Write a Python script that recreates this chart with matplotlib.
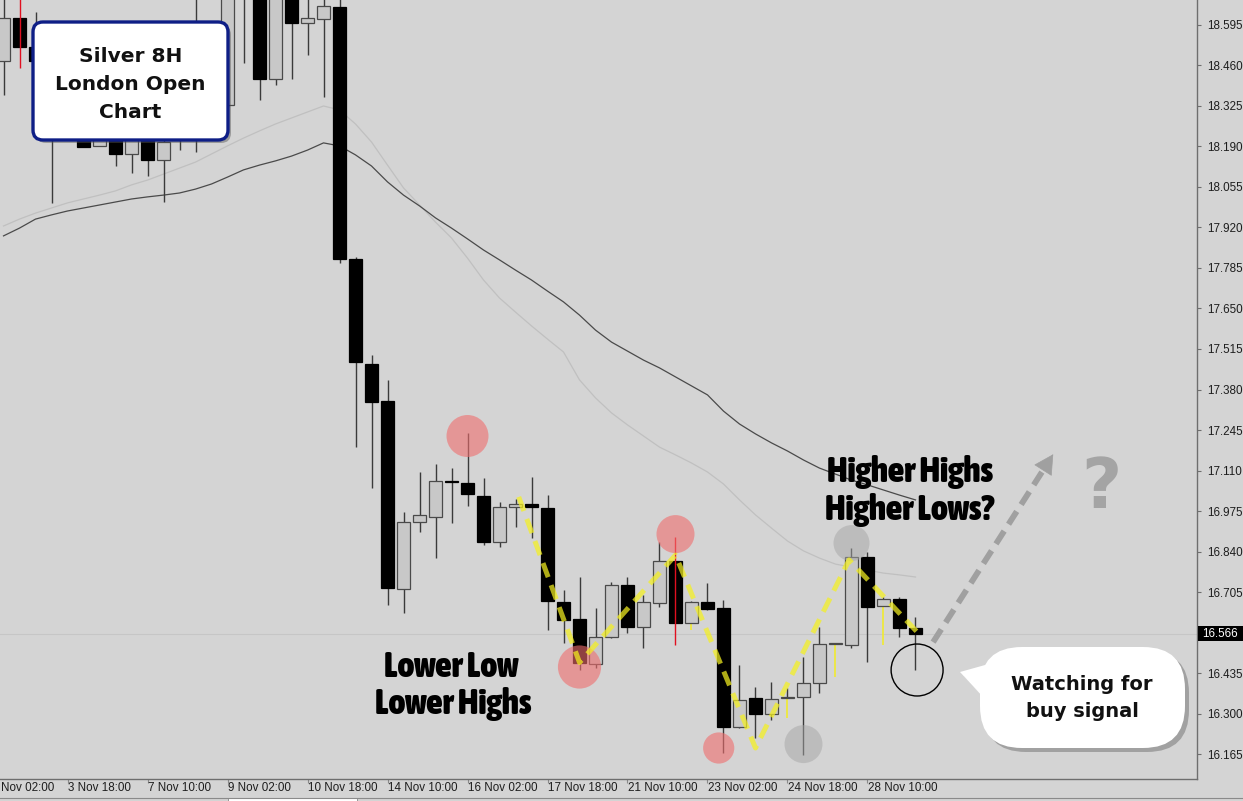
import matplotlib
matplotlib.use("Agg")
import matplotlib.pyplot as plt
import matplotlib.transforms as mtransforms
from matplotlib import font_manager as fm
from matplotlib.patches import FancyBboxPatch, Polygon, Rectangle

W, H = 1243, 801

# ---------- candle data (8H bars) ----------
opens = [18.475, 18.618, 18.522, 18.475, 18.250, 18.235, 18.192, 18.225, 18.165, 18.210,
         18.145, 18.220, 18.300, 18.550, 18.328, 18.800, 18.760, 18.415, 18.700, 18.602,
         18.615, 18.655, 17.815, 17.465, 17.342, 16.715, 16.938, 16.955, 17.075, 17.068,
         17.025, 16.872, 16.988, 16.998, 16.985, 16.672, 16.615, 16.465, 16.555, 16.728,
         16.588, 16.668, 16.808, 16.602, 16.672, 16.652, 16.255, 16.352, 16.298, 16.352,
         16.355, 16.402, 16.532, 16.528, 16.822, 16.658, 16.682, 16.585]
highs = [18.690, 18.700, 18.638, 18.500, 18.300, 18.260, 18.240, 18.240, 18.230, 18.230,
         18.220, 18.320, 18.700, 18.600, 18.800, 18.850, 18.800, 18.750, 18.720, 18.690,
         18.690, 18.690, 17.820, 17.495, 17.412, 16.972, 17.105, 17.132, 17.118, 17.235,
         17.085, 17.005, 17.015, 17.088, 17.028, 16.712, 16.755, 16.652, 16.738, 16.755,
         16.695, 16.872, 16.888, 16.675, 16.735, 16.678, 16.462, 16.388, 16.405, 16.385,
         16.488, 16.588, 16.536, 16.852, 16.838, 16.690, 16.690, 16.622]
lows = [18.362, 18.452, 18.440, 18.002, 18.220, 18.188, 18.190, 18.125, 18.102, 18.092,
        18.005, 18.178, 18.172, 18.300, 18.320, 18.468, 18.345, 18.395, 18.415, 18.495,
        18.355, 17.802, 17.188, 17.052, 16.662, 16.635, 16.905, 16.818, 16.935, 16.992,
        16.862, 16.855, 16.922, 16.885, 16.578, 16.535, 16.445, 16.452, 16.552, 16.568,
        16.518, 16.655, 16.528, 16.578, 16.645, 16.168, 16.252, 16.218, 16.278, 16.285,
        16.162, 16.368, 16.422, 16.520, 16.472, 16.528, 16.555, 16.445]
closes = [18.618, 18.522, 18.475, 18.250, 18.235, 18.188, 18.225, 18.165, 18.210, 18.145,
          18.205, 18.300, 18.580, 18.350, 18.760, 18.720, 18.415, 18.700, 18.602, 18.618,
          18.658, 17.815, 17.472, 17.338, 16.718, 16.938, 16.962, 17.075, 17.072, 17.032,
          16.872, 16.988, 16.998, 16.988, 16.675, 16.612, 16.468, 16.555, 16.728, 16.588,
          16.672, 16.808, 16.602, 16.672, 16.648, 16.255, 16.345, 16.298, 16.348, 16.354,
          16.402, 16.532, 16.534, 16.822, 16.655, 16.682, 16.585, 16.566]

red_wick_bars = [1, 42]
yellow_low_wick_bars = [43, 49, 52, 55]

# moving averages (dark = slow, light = fast)
ma_dark = [17.892, 17.918, 17.948, 17.962, 17.975, 17.985, 17.995, 18.005, 18.015, 18.022,
           18.028, 18.035, 18.048, 18.065, 18.088, 18.112, 18.128, 18.142, 18.158, 18.178,
           18.202, 18.192, 18.162, 18.125, 18.072, 18.028, 17.992, 17.952, 17.918, 17.882,
           17.845, 17.812, 17.778, 17.745, 17.708, 17.672, 17.628, 17.578, 17.538, 17.508,
           17.478, 17.452, 17.422, 17.392, 17.362, 17.308, 17.265, 17.232, 17.202, 17.175,
           17.145, 17.118, 17.098, 17.078, 17.062, 17.045, 17.028, 17.012]
ma_light = [17.925, 17.948, 17.968, 17.985, 18.002, 18.015, 18.028, 18.042, 18.062, 18.078,
            18.098, 18.118, 18.138, 18.165, 18.192, 18.218, 18.242, 18.265, 18.285, 18.305,
            18.325, 18.312, 18.265, 18.205, 18.128, 18.052, 17.995, 17.938, 17.885, 17.818,
            17.745, 17.685, 17.638, 17.592, 17.548, 17.505, 17.412, 17.352, 17.302, 17.262,
            17.225, 17.188, 17.162, 17.135, 17.105, 17.065, 17.012, 16.962, 16.918, 16.875,
            16.842, 16.818, 16.798, 16.788, 16.778, 16.768, 16.762, 16.755]

current_price = 16.566

y_ticks = [16.165, 16.300, 16.435, 16.705, 16.840, 16.975, 17.110, 17.245, 17.380,
           17.515, 17.650, 17.785, 17.920, 18.055, 18.190, 18.325, 18.460, 18.595]
x_label_bars = [4, 9, 14, 19, 24, 29, 34, 39, 44, 49, 54]
x_labels = ["3 Nov 18:00", "7 Nov 10:00", "9 Nov 02:00", "10 Nov 18:00",
            "14 Nov 10:00", "16 Nov 02:00", "17 Nov 18:00", "21 Nov 10:00", "23 Nov 02:00",
            "24 Nov 18:00", "28 Nov 10:00"]
first_label = "Nov 02:00"  # left-most label, clipped by the chart window

# swing annotations (bar, price)
pink_marks = [(29, 17.225), (42, 16.898), (36, 16.455), (44.7, 16.185)]
pink_sizes = [914, 750, 967, 505]
gray_marks = [(50, 16.198), (53, 16.868)]
gray_sizes = [748, 672]
zigzag_bars = [32.2, 36.0, 42.0, 47.0, 52.85, 57.1]
zigzag_prices = [17.022, 16.470, 16.828, 16.185, 16.812, 16.572]


def pick_narrow_bold():
    # look for a condensed / narrow bold face (Impact-like look)
    best, best_w = None, 0
    for f in fm.fontManager.ttflist:
        nm = f.name.lower()
        st = str(f.stretch).lower()
        narrow = ("narrow" in nm or "condensed" in nm or st in
                  ("condensed", "semi-condensed", "extra-condensed", "625", "700", "750"))
        w = f.weight if isinstance(f.weight, int) else fm.weight_dict.get(str(f.weight), 400)
        if narrow and w >= 700 and w > best_w:
            best, best_w = f.fname, w
    return best


narrow_file = pick_narrow_bold()
if narrow_file:
    big_font = fm.FontProperties(fname=narrow_file, size=25.5)
else:
    big_font = fm.FontProperties(family="Liberation Sans", weight="bold", size=19.5)

# ---------- figure ----------
BG = "#d4d4d4"
fig = plt.figure(figsize=(W / 100, H / 100), dpi=100, facecolor=BG)
ax = fig.add_axes([0, 22 / H, 1197 / W, 779 / H], facecolor=BG)
ax.set_xlim(-0.219, 74.594)
ax.set_ylim(16.0817, 18.6783)

for s in ["top", "left"]:
    ax.spines[s].set_visible(False)
for s in ["right", "bottom"]:
    ax.spines[s].set_color("#6e6e6e")
    ax.spines[s].set_linewidth(1.0)

# current price line
ax.axhline(current_price, color="#c6c6c6", lw=0.8, zorder=1)

# moving averages
bars = list(range(len(opens)))
ax.plot(bars, ma_light, color="#c0c0c0", lw=0.9, zorder=2)
ax.plot(bars, ma_dark, color="#4a4a4a", lw=0.9, zorder=2)

# candles
bw = 0.76
for i in bars:
    o, h, l, c = opens[i], highs[i], lows[i], closes[i]
    lo_b, hi_b = min(o, c), max(o, c)
    if i in red_wick_bars:
        ax.vlines(i, l, h, color="#e01020", lw=1.0, zorder=5)
    elif i in yellow_low_wick_bars:
        ax.vlines(i, hi_b, h, color="#3a3a3a", lw=1.0, zorder=3)
        ax.vlines(i, l, lo_b, color="#f0ea30", lw=1.2, zorder=3)
    else:
        ax.vlines(i, l, h, color="#3a3a3a", lw=1.0, zorder=3)
    if c < o:
        face, edge = "black", "black"
    else:
        face, edge = "#c8c8c8", "#4a4a4a"
    ax.add_patch(Rectangle((i - bw / 2, lo_b), bw, max(hi_b - lo_b, 0.0005),
                           facecolor=face, edgecolor=edge, lw=0.9, zorder=4))

# axis ticks / labels
ax.yaxis.tick_right()
ax.set_yticks(y_ticks)
ax.set_yticklabels([f"{v:.3f}" for v in y_ticks])
ax.tick_params(axis="y", direction="out", length=3, pad=4, labelsize=8.4,
               colors="#1e1e1e", labelfontfamily="Liberation Sans")
ax.tick_params(axis="y", color="#6e6e6e")
ax.set_xticks(x_label_bars)
ax.set_xticklabels([])
ax.tick_params(axis="x", direction="out", length=3, color="#8a8a8a")
xtr = ax.get_xaxis_transform()
for b, lab in zip(x_label_bars, x_labels):
    ax.text(b + 0.05, -9 / 779, lab, transform=xtr, ha="left", va="center",
            fontsize=8.4, family="Liberation Sans", color="#1e1e1e", clip_on=False)
ax.text(0.0005, -9 / 779, first_label, transform=ax.transAxes, ha="left", va="center",
        fontsize=8.4, family="Liberation Sans", color="#1e1e1e", clip_on=False)

# current price tag
ytr = mtransforms.blended_transform_factory(ax.transAxes, ax.transData)
ax.add_patch(Rectangle((1.0008, current_price - 0.025), 0.04, 0.05, transform=ytr,
                       facecolor="black", edgecolor="none", clip_on=False, zorder=6))
ax.text(1.004, current_price, f"{current_price:.3f}", transform=ytr, ha="left",
        va="center", fontsize=8.4, family="Liberation Sans", color="white", zorder=7)

# swing circles
for (b, p), s in zip(pink_marks, pink_sizes):
    ax.scatter(b, p, s=s, color="#f06e6e", alpha=0.6, edgecolors="none", zorder=8)
for (b, p), s in zip(gray_marks, gray_sizes):
    ax.scatter(b, p, s=s, color="#a6a6a6", alpha=0.5, edgecolors="none", zorder=8)
ax.scatter(57.1, 16.445, s=1400, facecolors="none", edgecolors="black", lw=1.0, zorder=8)

# yellow zigzag
ax.plot(zigzag_bars, zigzag_prices, color="#f4f020", alpha=0.72, lw=3.6,
        dashes=(3, 1.7), dash_capstyle="butt", solid_joinstyle="miter", zorder=9)

# projected move arrow
ax.plot([58.1, 65.0], [16.538, 17.113], color="#a0a0a0", lw=4.2, dashes=(2.6, 1.4),
        dash_capstyle="butt", zorder=9)
ax.annotate("", xy=(65.7, 17.172), xytext=(64.9, 17.105),
            arrowprops=dict(arrowstyle="-|>,head_length=1.3,head_width=0.7",
                            color="#a0a0a0", lw=0.5), zorder=9)

# ---------- overlay in pixel coordinates ----------
ov = fig.add_axes([0, 0, 1, 1], facecolor="none")
ov.set_xlim(0, W)
ov.set_ylim(H, 0)
ov.axis("off")

# bottom tab strip
ov.plot([0, W], [798, 798], color="#8a8a8a", lw=0.8)
ov.add_patch(Rectangle((228, 798), 129, 4, facecolor="white", edgecolor="#8a8a8a", lw=0.6))

# title box
ov.add_patch(FancyBboxPatch((36, 25), 195, 118, boxstyle="round,pad=0,rounding_size=10",
                            facecolor="#555555", alpha=0.45, edgecolor="none"))
ov.add_patch(FancyBboxPatch((33, 22), 195, 118, boxstyle="round,pad=0,rounding_size=10",
                            facecolor="white", edgecolor="#0e1e86", lw=2.4))
for txt, yb in [("Silver 8H", 62), ("London Open", 90), ("Chart", 118)]:
    ov.text(130.5, yb, txt, ha="center", va="baseline", fontsize=14.5,
            fontweight="bold", family="DejaVu Sans", color="#111111")

# speech bubble
ov.add_patch(Polygon([(964, 676), (1007, 664), (997, 712)], closed=True,
                     facecolor="#555555", alpha=0.4, edgecolor="none"))
ov.add_patch(FancyBboxPatch((984, 651), 205, 101, boxstyle="round,pad=0,rounding_size=42",
                            facecolor="#555555", alpha=0.4, edgecolor="none"))
ov.add_patch(Polygon([(960, 672), (1003, 660), (993, 708)], closed=True,
                     facecolor="white", edgecolor="none"))
ov.add_patch(FancyBboxPatch((980, 647), 205, 101, boxstyle="round,pad=0,rounding_size=42",
                            facecolor="white", edgecolor="none"))
ov.text(1082, 690, "Watching for", ha="center", va="baseline", fontsize=14,
        fontweight="bold", family="DejaVu Sans", color="#111111")
ov.text(1082, 717, "buy signal", ha="center", va="baseline", fontsize=14,
        fontweight="bold", family="DejaVu Sans", color="#111111")

# structure labels
ov.text(451, 677, "Lower Low", ha="center", va="baseline", fontproperties=big_font,
        color="black")
ov.text(453, 714, "Lower Highs", ha="center", va="baseline", fontproperties=big_font,
        color="black")
ov.text(910, 482, "Higher Highs", ha="center", va="baseline", fontproperties=big_font,
        color="black")
ov.text(910, 520, "Higher Lows?", ha="center", va="baseline", fontproperties=big_font,
        color="black")
ov.text(1101, 508, "?", ha="center", va="baseline", fontsize=50,
        fontweight="bold", family="DejaVu Sans", color="#a4a4a4")

fig.savefig("out.png", dpi=100, facecolor=BG)
plt.close(fig)
